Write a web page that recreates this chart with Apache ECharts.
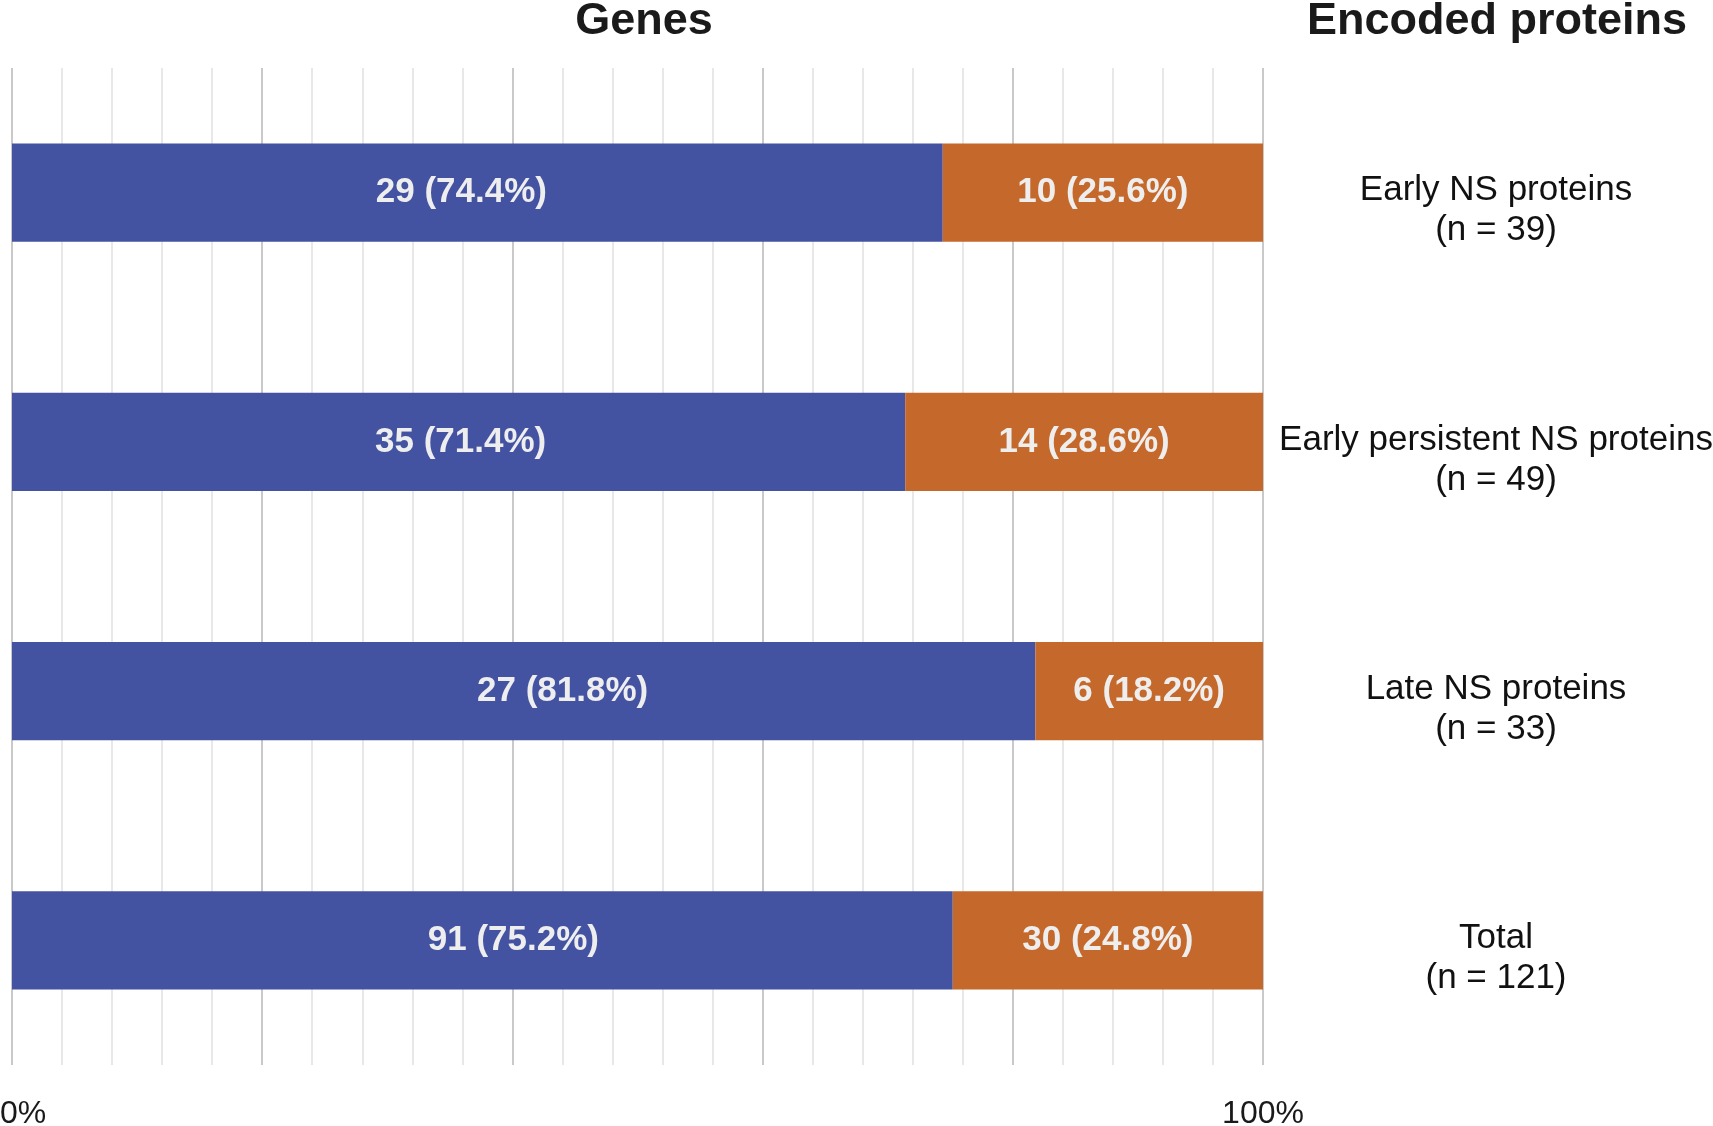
<!DOCTYPE html>
<html>
<head>
<meta charset="utf-8">
<script src="https://cdn.jsdelivr.net/npm/echarts@6/dist/echarts.min.js"></script>
<style>
html,body{margin:0;padding:0;background:#fff;}
#chart{width:1713px;height:1126px;}
</style>
</head>
<body>
<div id="chart"></div>
<script>
// ---- data ----
const categories = ['Early NS proteins', 'Early persistent NS proteins', 'Late NS proteins', 'Total'];
const totals = [39, 49, 33, 121];
const blueCounts = [29, 35, 27, 91];
const bluePct = [74.4, 71.4, 81.8, 75.2];
const orangeCounts = [10, 14, 6, 30];
const orangePct = [25.6, 28.6, 18.2, 24.8];
const xTickLabels = ['0%', '100%'];

// ---- style ----
const blueLabelShift = [-16, 2, 39, 31];
const FONT = '"Liberation Sans", Arial, sans-serif';

const chart = echarts.init(document.getElementById('chart'));
const yLabels = categories.map((c, i) => c + '\n(n = ' + totals[i] + ')');

chart.setOption({
  animation: false,
  textStyle: { fontFamily: FONT },
  title: [
    { text: 'Genes', left: 639, top: -6, textAlign: 'center',
      textStyle: { fontFamily: FONT, fontSize: 45, fontWeight: 'bold', color: '#1a1a1a' } },
    { text: 'Encoded proteins', left: 1492, top: -6, textAlign: 'center',
      textStyle: { fontFamily: FONT, fontSize: 45, fontWeight: 'bold', color: '#1a1a1a' } }
  ],
  grid: { left: 12, right: 1713 - 1263, top: 68, bottom: 61, containLabel: false, outerBoundsMode: 'none' },
  xAxis: {
    type: 'value', min: 0, max: 100, interval: 4,
    axisLine: { show: false }, axisTick: { show: false },
    splitLine: { show: true, lineStyle: { width: 2, color: ['#c9c9c9', '#e8e8e8', '#e8e8e8', '#e8e8e8', '#e8e8e8'] } },
    axisLabel: {
      margin: 33, fontSize: 32, color: '#1a1a1a', fontFamily: FONT,
      formatter: v => v === 0 ? '{min|' + xTickLabels[0] + '}' : (v === 100 ? xTickLabels[1] : ''),
      rich: { min: { fontSize: 32, color: '#1a1a1a', fontFamily: FONT, padding: [0, 0, 0, 22] } }
    }
  },
  yAxis: {
    type: 'category', data: yLabels, inverse: true, position: 'right',
    axisLine: { show: false }, axisTick: { show: false }, splitLine: { show: false },
    axisLabel: {
      align: 'center', margin: 233, fontSize: 35, lineHeight: 40, color: '#111',
      fontFamily: FONT,
      formatter: v => '{s| }\n' + v.split('\n').map(t => '{a|' + t + '}').join('\n'),
      rich: {
        s: { fontSize: 10, lineHeight: 36 },
        a: { fontSize: 35, lineHeight: 40, color: '#111', fontFamily: FONT }
      }
    }
  },
  series: [
    {
      type: 'bar', stack: 'a', barCategoryGap: '60.5%',
      itemStyle: { color: '#4453a1' },
      data: bluePct.map((v, i) => ({
        value: v,
        label: { offset: [blueLabelShift[i], 0] }
      })),
      label: {
        show: true, position: 'inside', color: '#eeeeee', fontSize: 35, fontWeight: 'bold', fontFamily: FONT,
        formatter: p => blueCounts[p.dataIndex] + ' (' + bluePct[p.dataIndex].toFixed(1) + '%)'
      }
    },
    {
      type: 'bar', stack: 'a', barCategoryGap: '60.5%',
      itemStyle: { color: '#c4692b' },
      data: orangePct,
      label: {
        show: true, position: 'inside', color: '#eeeeee', fontSize: 35, fontWeight: 'bold', fontFamily: FONT,
        formatter: p => orangeCounts[p.dataIndex] + ' (' + orangePct[p.dataIndex].toFixed(1) + '%)'
      }
    }
  ]
});
</script>
</body>
</html>
